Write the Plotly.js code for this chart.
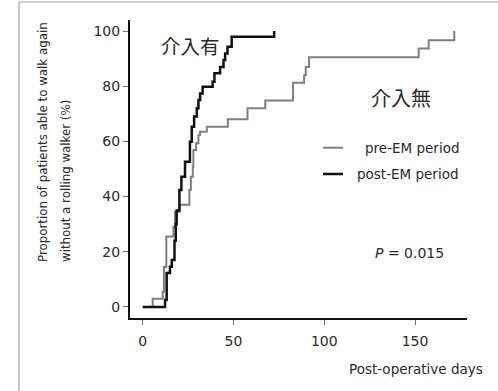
<!DOCTYPE html>
<html>
<head>
<meta charset="utf-8">
<script src="https://cdn.plot.ly/plotly-3.0.1.min.js"></script>
<style>
html,body{margin:0;padding:0;background:#fff;}
#chart{width:498px;height:391px;}
</style>
</head>
<body>
<div id="chart"></div>
<script>
// ---- data ----
const seriesNames = ["pre-EM period", "post-EM period"];

const preDays = [0, 5.5, 11, 11.7, 13, 16.9, 17.8, 20.3, 25.7, 26.5, 27.6, 27.9, 29.4, 30.7, 31.6, 35.3, 46.9, 57.7, 67.5, 82.8, 88.9, 89.8, 91.6, 152, 157.5, 171.6];
const preVals = [0, 3, 5.5, 14.5, 25.5, 29, 34.5, 37, 42.4, 47.2, 50.8, 56.9, 59.3, 62.3, 63.5, 65.3, 68, 72, 74.8, 81.3, 84, 87, 90.5, 93.7, 96.7, 100];

const postDays = [0, 12.3, 13.2, 15, 16, 17.5, 18.2, 18.7, 20.2, 21.3, 23.3, 26, 27, 28.3, 29.8, 30.7, 31.6, 33, 38.5, 39.5, 42.6, 44.5, 45.4, 46.7, 49, 72.4];
const postVals = [0, 2.5, 12.3, 14.6, 17, 24, 30, 35, 42.4, 47.2, 52.6, 59.9, 65.3, 69, 72, 75, 77.4, 79.8, 81.6, 84.7, 87, 89.5, 91.9, 94.3, 97.9, 100];

const xTicks = [0, 50, 100, 150];
const yTicks = [0, 20, 40, 60, 80, 100];

const yTitleLines = ["Proportion of patients able to walk again", "without a rolling walker (%)"];
const xTitle = "Post-operative days";
const labelWith = "介入有";
const labelWithout = "介入無";
const pText = "<i>P</i> = 0.015";

// ---- layout helpers (pixel -> paper) ----
const L = 130, R = 467, T = 20, B = 318;
const W = 498, H = 391;
const px = p => (p - L) / (R - L);
const py = p => (B - p) / (B - T);

const FONT = "DejaVu Sans, Verdana, sans-serif";
const CJK = "Noto Sans CJK JP, sans-serif";
const GRAY = "#7f7f7f";
const TXT = "#2a2a2a";

const traces = [
  {x: preDays, y: preVals, name: seriesNames[0], type: "scatter", mode: "lines",
   line: {shape: "hv", color: GRAY, width: 2}, showlegend: false},
  {x: postDays, y: postVals, name: seriesNames[1], type: "scatter", mode: "lines",
   line: {shape: "hv", color: "#111", width: 2.5}, showlegend: false}
];

const layout = {
  width: W, height: H,
  margin: {l: L, r: W - R, t: T, b: H - B},
  paper_bgcolor: "#fff", plot_bgcolor: "#fff",
  font: {family: FONT, size: 14, color: TXT},
  xaxis: {
    range: [-7, 178.6], tickvals: xTicks, ticktext: xTicks.map(String),
    showgrid: false, zeroline: false, showline: true, linecolor: "#111", linewidth: 2,
    ticks: "outside", ticklen: 5, tickwidth: 1, tickcolor: "#777", ticklabelstandoff: 4,
    tickfont: {family: FONT, size: 14, color: TXT}, fixedrange: true
  },
  yaxis: {
    range: [-4, 104], tickvals: yTicks, ticktext: yTicks.map(String),
    showgrid: false, zeroline: false, showline: true, linecolor: "#111", linewidth: 2,
    ticks: "outside", ticklen: 5, tickwidth: 1, tickcolor: "#777",
    tickfont: {family: FONT, size: 14, color: TXT}, fixedrange: true
  },
  shapes: [
    // outer frame (top & left)
    {type: "line", xref: "paper", yref: "paper", x0: px(19), x1: px(W), y0: py(2), y1: py(2), line: {color: "#a0a0a0", width: 1.2}},
    {type: "line", xref: "paper", yref: "paper", x0: px(19), x1: px(19), y0: py(2), y1: py(H), line: {color: "#a0a0a0", width: 1.2}},
    // legend samples
    {type: "line", xref: "paper", yref: "paper", x0: px(323), x1: px(343), y0: py(147.7), y1: py(147.7), line: {color: GRAY, width: 2}},
    {type: "line", xref: "paper", yref: "paper", x0: px(323), x1: px(343), y0: py(174), y1: py(174), line: {color: "#111", width: 2.5}}
  ],
  annotations: [
    {xref: "paper", yref: "paper", x: px(43), y: py(264), xanchor: "center", yanchor: "bottom",
     text: yTitleLines[0], textangle: -90, showarrow: false, font: {family: FONT, size: 11.8, color: TXT}},
    {xref: "paper", yref: "paper", x: px(66), y: py(264), xanchor: "center", yanchor: "bottom",
     text: yTitleLines[1], textangle: -90, showarrow: false, font: {family: FONT, size: 11.8, color: TXT}},
    {xref: "paper", yref: "paper", x: px(485), y: py(369), xanchor: "right", yanchor: "middle",
     text: xTitle, showarrow: false, font: {family: FONT, size: 13.5, color: TXT}},
    {xref: "paper", yref: "paper", x: px(190), y: py(45), xanchor: "center", yanchor: "middle",
     text: labelWith, showarrow: false, font: {family: CJK, size: 19.5, color: TXT}},
    {xref: "paper", yref: "paper", x: px(401), y: py(97), xanchor: "center", yanchor: "middle",
     text: labelWithout, showarrow: false, font: {family: CJK, size: 20, color: TXT}},
    {xref: "paper", yref: "paper", x: px(461), y: py(147.7), xanchor: "right", yanchor: "middle",
     text: seriesNames[0], showarrow: false, font: {family: FONT, size: 13.5, color: TXT}},
    {xref: "paper", yref: "paper", x: px(461), y: py(174), xanchor: "right", yanchor: "middle",
     text: seriesNames[1], showarrow: false, font: {family: FONT, size: 13.5, color: TXT}},
    {xref: "paper", yref: "paper", x: px(446), y: py(253), xanchor: "right", yanchor: "middle",
     text: pText, showarrow: false, font: {family: FONT, size: 14, color: TXT}}
  ]
};

Plotly.newPlot("chart", traces, layout, {staticPlot: true, displayModeBar: false});
</script>
</body>
</html>
